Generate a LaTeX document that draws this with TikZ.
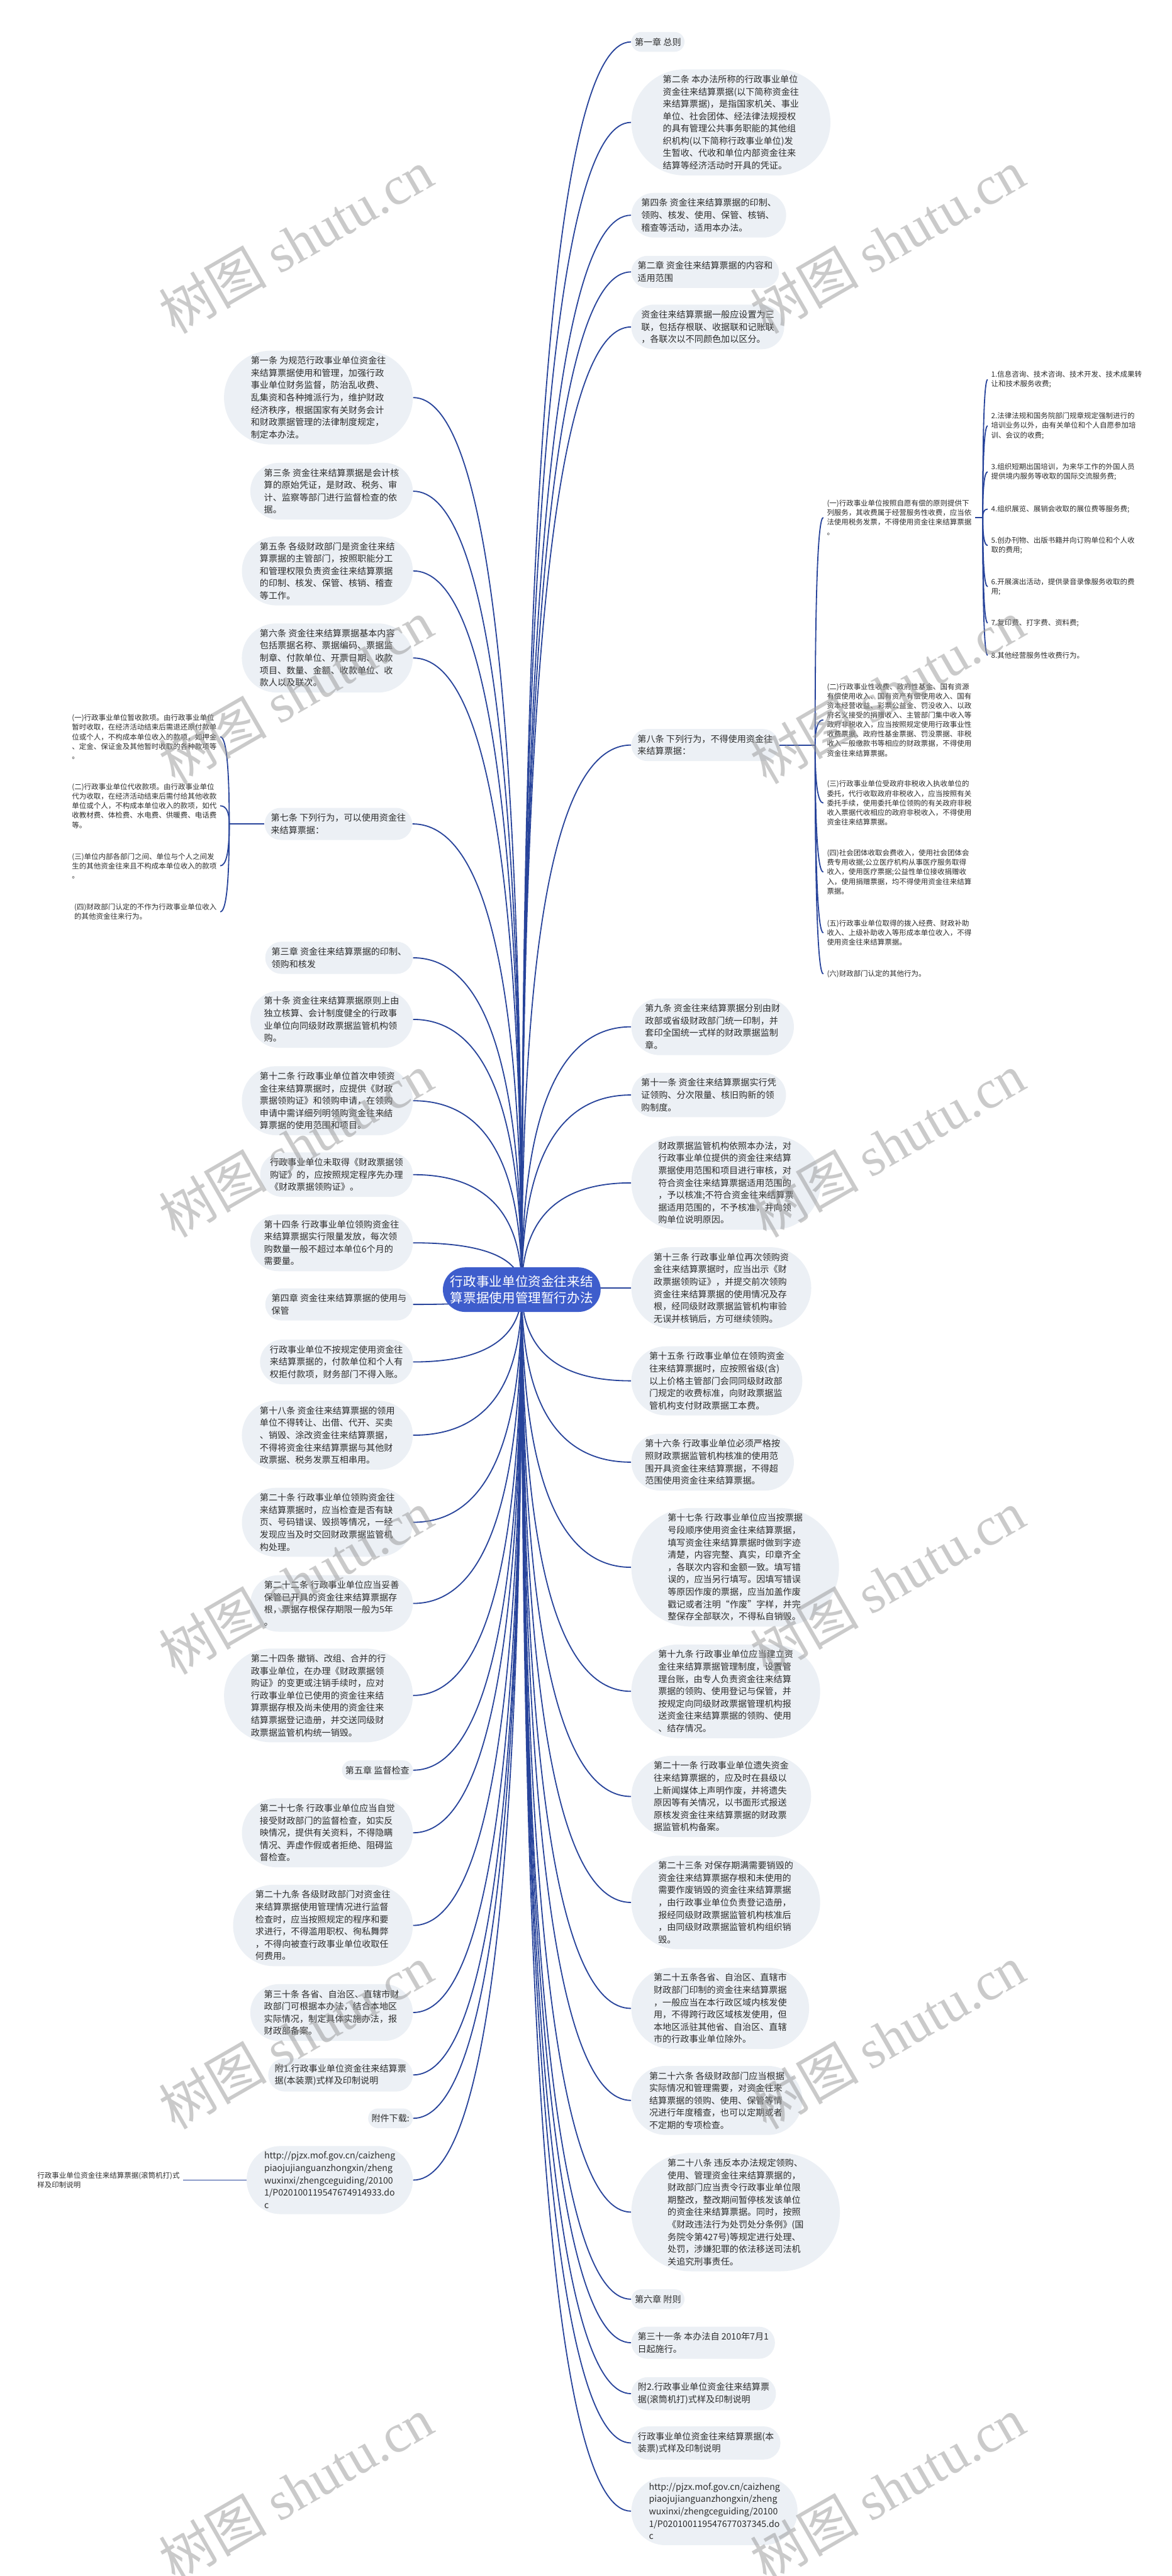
\documentclass[tikz,border=0pt]{standalone}
\usepackage{fontspec}
\setmainfont{Noto Sans CJK SC}
\newfontfamily\wmlatin{Liberation Serif}
\usetikzlibrary{shapes.misc,calc,backgrounds}
\definecolor{bubfill}{RGB}{236,240,245}
\definecolor{lineblue}{RGB}{40,68,155}
\definecolor{rootblue}{RGB}{62,93,204}
\definecolor{txt}{RGB}{45,45,45}
\definecolor{wmgray}{RGB}{150,150,150}
\newcommand\mainfs{\fontsize{5.4}{7.5}\selectfont}
\newcommand\smallfs{\fontsize{4.4}{5.8}\selectfont}
\newcommand\rootfs{\fontsize{7.9}{9.75}\selectfont}
\newcommand\wmfs{\fontsize{33}{33}\selectfont}
\newcommand\qc[2]{\draw[conn] (#1) .. controls ($(#1)!0.6667!(#1|-#2)$) and ($(#2)!0.6667!(#1|-#2)$) .. (#2);}
\tikzset{
  bub/.style={rounded rectangle, fill=bubfill, inner xsep=1.5pt, inner ysep=3.5pt, align=left, text=txt, font=\mainfs},
  smalltxt/.style={inner xsep=2pt, inner ysep=1pt, align=left, text=txt, font=\smallfs},
  rootnode/.style={rounded rectangle, fill=rootblue, text=white, align=left, font=\rootfs, inner xsep=1.5pt, inner ysep=5pt},
  conn/.style={draw=lineblue, line width=0.7pt},
  wm/.style={text=wmgray, text opacity=0.5, rotate=30, inner sep=0pt, font=\wmfs}
}
\begin{document}
\begin{tikzpicture}[x=1pt,y=-1pt]
\useasboundingbox (0,0) rectangle (713,1568);
\coordinate (C) at (317.5,785);
\node[rootnode] (root) at (317.5,785) {行政事业单位资金往来结\\算票据使用管理暂行办法};

% ---------- right side ----------
\node[bub,anchor=west] (r1) at (384,25.5) {第一章 总则};
\node[bub,anchor=west] (r2) at (384,74.5) {第二条 本办法所称的行政事业单位\\资金往来结算票据(以下简称资金往\\来结算票据)，是指国家机关、事业\\单位、社会团体、经法律法规授权\\的具有管理公共事务职能的其他组\\织机构(以下简称行政事业单位)发\\生暂收、代收和单位内部资金往来\\结算等经济活动时开具的凭证。};
\node[bub,anchor=west] (r3) at (384,131) {第四条 资金往来结算票据的印制、\\领购、核发、使用、保管、核销、\\稽查等活动，适用本办法。};
\node[bub,anchor=west] (r4) at (384,165.5) {第二章 资金往来结算票据的内容和\\适用范围};
\node[bub,anchor=west] (r5) at (384,199) {资金往来结算票据一般应设置为三\\联，包括存根联、收据联和记账联\\，各联次以不同颜色加以区分。};
\node[bub,anchor=west] (r6) at (384,453.5) {第八条 下列行为，不得使用资金往\\来结算票据：};
\node[bub,anchor=west] (r7) at (384,625) {第九条 资金往来结算票据分别由财\\政部或省级财政部门统一印制，并\\套印全国统一式样的财政票据监制\\章。};
\node[bub,anchor=west] (r8) at (384,666.5) {第十一条 资金往来结算票据实行凭\\证领购、分次限量、核旧购新的领\\购制度。};
\node[bub,anchor=west] (r9) at (384,720) {财政票据监管机构依照本办法，对\\行政事业单位提供的资金往来结算\\票据使用范围和项目进行审核，对\\符合资金往来结算票据适用范围的\\，予以核准;不符合资金往来结算票\\据适用范围的，不予核准，并向领\\购单位说明原因。};
\node[bub,anchor=west] (r10) at (384,784) {第十三条 行政事业单位再次领购资\\金往来结算票据时，应当出示《财\\政票据领购证》，并提交前次领购\\资金往来结算票据的使用情况及存\\根，经同级财政票据监管机构审验\\无误并核销后，方可继续领购。};
\node[bub,anchor=west] (r11) at (384,840.5) {第十五条 行政事业单位在领购资金\\往来结算票据时，应按照省级(含)\\以上价格主管部门会同同级财政部\\门规定的收费标准，向财政票据监\\管机构支付财政票据工本费。};
\node[bub,anchor=west] (r12) at (384,890) {第十六条 行政事业单位必须严格按\\照财政票据监管机构核准的使用范\\围开具资金往来结算票据，不得超\\范围使用资金往来结算票据。};
\node[bub,anchor=west] (r13) at (384,954) {第十七条 行政事业单位应当按票据\\号段顺序使用资金往来结算票据，\\填写资金往来结算票据时做到字迹\\清楚，内容完整、真实，印章齐全\\，各联次内容和金额一致。填写错\\误的，应当另行填写。因填写错误\\等原因作废的票据，应当加盖作废\\戳记或者注明“作废”字样，并完\\整保存全部联次，不得私自销毁。};
\node[bub,anchor=west] (r14) at (384,1029.5) {第十九条 行政事业单位应当建立资\\金往来结算票据管理制度，设置管\\理台账，由专人负责资金往来结算\\票据的领购、使用登记与保管，并\\按规定向同级财政票据管理机构报\\送资金往来结算票据的领购、使用\\、结存情况。};
\node[bub,anchor=west] (r15) at (384,1093.5) {第二十一条 行政事业单位遗失资金\\往来结算票据的，应及时在县级以\\上新闻媒体上声明作废，并将遗失\\原因等有关情况，以书面形式报送\\原核发资金往来结算票据的财政票\\据监管机构备案。};
\node[bub,anchor=west] (r16) at (384,1158) {第二十三条 对保存期满需要销毁的\\资金往来结算票据存根和未使用的\\需要作废销毁的资金往来结算票据\\，由行政事业单位负责登记造册，\\报经同级财政票据监管机构核准后\\，由同级财政票据监管机构组织销\\毁。};
\node[bub,anchor=west] (r17) at (384,1222.5) {第二十五条各省、自治区、直辖市\\财政部门印制的资金往来结算票据\\，一般应当在本行政区域内核发使\\用，不得跨行政区域核发使用，但\\本地区派驻其他省、自治区、直辖\\市的行政事业单位除外。};
\node[bub,anchor=west] (r18) at (384,1278.5) {第二十六条 各级财政部门应当根据\\实际情况和管理需要，对资金往来\\结算票据的领购、使用、保管等情\\况进行年度稽查，也可以定期或者\\不定期的专项检查。};
\node[bub,anchor=west] (r19) at (384,1346.5) {第二十八条 违反本办法规定领购、\\使用、管理资金往来结算票据的，\\财政部门应当责令行政事业单位限\\期整改，整改期间暂停核发该单位\\的资金往来结算票据。同时，按照\\《财政违法行为处罚处分条例》(国\\务院令第427号)等规定进行处理、\\处罚，涉嫌犯罪的依法移送司法机\\关追究刑事责任。};
\node[bub,anchor=west] (r20) at (384,1399.5) {第六章 附则};
\node[bub,anchor=west] (r21) at (384,1426) {第三十一条 本办法自 2010年7月1\\日起施行。};
\node[bub,anchor=west] (r22) at (384,1457) {附2.行政事业单位资金往来结算票\\据(滚筒机打)式样及印制说明};
\node[bub,anchor=west] (r23) at (384,1487) {行政事业单位资金往来结算票据(本\\装票)式样及印制说明};
\node[bub,anchor=west] (r24) at (384,1528.5) {http://pjzx.mof.gov.cn/caizheng\\piaojujianguanzhongxin/zheng\\wuxinxi/zhengceguiding/20100\\1/P020100119547677037345.do\\c};

% children of article 8
\node[smalltxt,anchor=west] (c1) at (501,315) {(一)行政事业单位按照自愿有偿的原则提供下\\列服务，其收费属于经营服务性收费，应当依\\法使用税务发票，不得使用资金往来结算票据\\。};
\node[smalltxt,anchor=west] (c2) at (501,438.2) {(二)行政事业性收费、政府性基金、国有资源\\有偿使用收入、国有资产有偿使用收入、国有\\资本经营收益、彩票公益金、罚没收入、以政\\府名义接受的捐赠收入、主管部门集中收入等\\政府非税收入，应当按照规定使用行政事业性\\收费票据、政府性基金票据、罚没票据、非税\\收入一般缴款书等相应的财政票据，不得使用\\资金往来结算票据。};
\node[smalltxt,anchor=west] (c3) at (501,488.8) {(三)行政事业单位受政府非税收入执收单位的\\委托，代行收取政府非税收入，应当按照有关\\委托手续，使用委托单位领购的有关政府非税\\收入票据代收相应的政府非税收入，不得使用\\资金往来结算票据。};
\node[smalltxt,anchor=west] (c4) at (501,530.8) {(四)社会团体收取会费收入，使用社会团体会\\费专用收据;公立医疗机构从事医疗服务取得\\收入，使用医疗票据;公益性单位接收捐赠收\\入，使用捐赠票据，均不得使用资金往来结算\\票据。};
\node[smalltxt,anchor=west] (c5) at (501,567.8) {(五)行政事业单位取得的拨入经费、财政补助\\收入、上级补助收入等形成本单位收入，不得\\使用资金往来结算票据。};
\node[smalltxt,anchor=west] (c6) at (501,592.8) {(六)财政部门认定的其他行为。};

% items of (一)
\node[smalltxt,anchor=west] (i1) at (601,231) {1.信息咨询、技术咨询、技术开发、技术成果转\\让和技术服务收费;};
\node[smalltxt,anchor=west] (i2) at (601,259.2) {2.法律法规和国务院部门规章规定强制进行的\\培训业务以外，由有关单位和个人自愿参加培\\训、会议的收费;};
\node[smalltxt,anchor=west] (i3) at (601,287.2) {3.组织短期出国培训，为来华工作的外国人员\\提供境内服务等收取的国际交流服务费;};
\node[smalltxt,anchor=west] (i4) at (601,309.9) {4.组织展览、展销会收取的展位费等服务费;};
\node[smalltxt,anchor=west] (i5) at (601,332) {5.创办刊物、出版书籍并向订购单位和个人收\\取的费用;};
\node[smalltxt,anchor=west] (i6) at (601,357.1) {6.开展演出活动，提供录音录像服务收取的费\\用;};
\node[smalltxt,anchor=west] (i7) at (601,379.2) {7.复印费、打字费、资料费;};
\node[smalltxt,anchor=west] (i8) at (601,398.9) {8.其他经营服务性收费行为。};

% ---------- left side ----------
\node[bub,anchor=east] (l1) at (251.4,242) {第一条 为规范行政事业单位资金往\\来结算票据使用和管理，加强行政\\事业单位财务监督，防治乱收费、\\乱集资和各种摊派行为，维护财政\\经济秩序，根据国家有关财务会计\\和财政票据管理的法律制度规定，\\制定本办法。};
\node[bub,anchor=east] (l2) at (251.4,299) {第三条 资金往来结算票据是会计核\\算的原始凭证，是财政、税务、审\\计、监察等部门进行监督检查的依\\据。};
\node[bub,anchor=east] (l3) at (251.4,347.5) {第五条 各级财政部门是资金往来结\\算票据的主管部门，按照职能分工\\和管理权限负责资金往来结算票据\\的印制、核发、保管、核销、稽查\\等工作。};
\node[bub,anchor=east] (l4) at (251.4,400.5) {第六条 资金往来结算票据基本内容\\包括票据名称、票据编码、票据监\\制章、付款单位、开票日期、收款\\项目、数量、金额、收款单位、收\\款人以及联次。};
\node[bub,anchor=east] (l5) at (251,501.5) {第七条 下列行为，可以使用资金往\\来结算票据：};
\node[bub,anchor=east] (l6) at (251.4,583) {第三章 资金往来结算票据的印制、\\领购和核发};
\node[bub,anchor=east] (l7) at (251.4,620.5) {第十条 资金往来结算票据原则上由\\独立核算、会计制度健全的行政事\\业单位向同级财政票据监管机构领\\购。};
\node[bub,anchor=east] (l8) at (251.4,670) {第十二条 行政事业单位首次申领资\\金往来结算票据时，应提供《财政\\票据领购证》和领购申请，在领购\\申请中需详细列明领购资金往来结\\算票据的使用范围和项目。};
\node[bub,anchor=east] (l9) at (251.4,715) {行政事业单位未取得《财政票据领\\购证》的，应按照规定程序先办理\\《财政票据领购证》。};
\node[bub,anchor=east] (l10) at (251.4,756.5) {第十四条 行政事业单位领购资金往\\来结算票据实行限量发放，每次领\\购数量一般不超过本单位6个月的\\需要量。};
\node[bub,anchor=east] (l11) at (251.4,794) {第四章 资金往来结算票据的使用与\\保管};
\node[bub,anchor=east] (l12) at (251.4,829) {行政事业单位不按规定使用资金往\\来结算票据的，付款单位和个人有\\权拒付款项，财务部门不得入账。};
\node[bub,anchor=east] (l13) at (251.4,873.6) {第十八条 资金往来结算票据的领用\\单位不得转让、出借、代开、买卖\\、销毁、涂改资金往来结算票据，\\不得将资金往来结算票据与其他财\\政票据、税务发票互相串用。};
\node[bub,anchor=east] (l14) at (251.4,926.6) {第二十条 行政事业单位领购资金往\\来结算票据时，应当检查是否有缺\\页、号码错误、毁损等情况，一经\\发现应当及时交回财政票据监管机\\构处理。};
\node[bub,anchor=east] (l15) at (251.4,976) {第二十二条 行政事业单位应当妥善\\保管已开具的资金往来结算票据存\\根，票据存根保存期限一般为5年\\。};
\node[bub,anchor=east] (l16) at (251.4,1032) {第二十四条 撤销、改组、合并的行\\政事业单位，在办理《财政票据领\\购证》的变更或注销手续时，应对\\行政事业单位已使用的资金往来结\\算票据存根及尚未使用的资金往来\\结算票据登记造册，并交送同级财\\政票据监管机构统一销毁。};
\node[bub,anchor=east] (l17) at (251.4,1077.5) {第五章 监督检查};
\node[bub,anchor=east] (l18) at (251.4,1115.6) {第二十七条 行政事业单位应当自觉\\接受财政部门的监督检查，如实反\\映情况，提供有关资料，不得隐瞒\\情况、弄虚作假或者拒绝、阻碍监\\督检查。};
\node[bub,anchor=east] (l19) at (251.4,1172) {第二十九条 各级财政部门对资金往\\来结算票据使用管理情况进行监督\\检查时，应当按照规定的程序和要\\求进行，不得滥用职权、徇私舞弊\\，不得向被查行政事业单位收取任\\何费用。};
\node[bub,anchor=east] (l20) at (251.4,1225) {第三十条 各省、自治区、直辖市财\\政部门可根据本办法，结合本地区\\实际情况，制定具体实施办法，报\\财政部备案。};
\node[bub,anchor=east] (l21) at (251.4,1263) {附1.行政事业单位资金往来结算票\\据(本装票)式样及印制说明};
\node[bub,anchor=east] (l22) at (251.4,1289.4) {附件下载:};
\node[bub,anchor=east] (l23) at (251.4,1327) {http://pjzx.mof.gov.cn/caizheng\\piaojujianguanzhongxin/zheng\\wuxinxi/zhengceguiding/20100\\1/P020100119547674914933.do\\c};

% children of article 7
\node[smalltxt,anchor=east] (k1) at (134,448.5) {(一)行政事业单位暂收款项。由行政事业单位\\暂时收取，在经济活动结束后需退还原付款单\\位或个人，不构成本单位收入的款项，如押金\\、定金、保证金及其他暂时收取的各种款项等\\。};
\node[smalltxt,anchor=east] (k2) at (134,490.5) {(二)行政事业单位代收款项。由行政事业单位\\代为收取，在经济活动结束后需付给其他收款\\单位或个人，不构成本单位收入的款项，如代\\收教材费、体检费、水电费、供暖费、电话费\\等。};
\node[smalltxt,anchor=east] (k3) at (134,527) {(三)单位内部各部门之间、单位与个人之间发\\生的其他资金往来且不构成本单位收入的款项\\。};
\node[smalltxt,anchor=east] (k4) at (134,555) {(四)财政部门认定的不作为行政事业单位收入\\的其他资金往来行为。};

% leaf of l23
\node[smalltxt,anchor=east] (lf) at (111.5,1327) {行政事业单位资金往来结算票据(滚筒机打)式\\样及印制说明};

% ---------- connectors ----------
\begin{pgfonlayer}{background}
\fill[white] (0,0) rectangle (713,1568);
\foreach \n in {r1,r2,r3,r4,r5,r6,r7,r8,r9,r10,r11,r12,r13,r14,r15,r16,r17,r18,r19,r20,r21,r22,r23,r24} {\qc{C}{\n.west}}
\foreach \n in {l1,l2,l3,l4,l5,l6,l7,l8,l9,l10,l11,l12,l13,l14,l15,l16,l17,l18,l19,l20,l21,l22,l23} {\qc{C}{\n.east}}
\coordinate (B8) at (496,453.5);
\draw[conn] (r6.east) -- (B8);
\foreach \n in {c1,c2,c3,c4,c5,c6} {\qc{B8}{\n.west}}
\coordinate (B1) at (598,315);
\draw[conn] (c1.east) -- (B1);
\foreach \n in {i1,i2,i3,i4,i5,i6,i7,i8} {\qc{B1}{\n.west}}
\coordinate (B7) at (139.5,501.5);
\draw[conn] (l5.west) -- (B7);
\foreach \n in {k1,k2,k3,k4} {\qc{B7}{\n.east}}
\draw[conn] (l23.west) -- (lf.east);
\end{pgfonlayer}

% ---------- watermarks ----------
\node[wm] (wa) at (180,147) {树图 {\wmlatin shutu.cn}};
\node[wm] (wb) at (180,421) {树图 {\wmlatin shutu.cn}};
\node[wm] (wc) at (180,697) {树图 {\wmlatin shutu.cn}};
\node[wm] (wd) at (180,963) {树图 {\wmlatin shutu.cn}};
\node[wm] (we) at (180,1240) {树图 {\wmlatin shutu.cn}};
\node[wm] (wf) at (180,1515) {树图 {\wmlatin shutu.cn}};
\node[wm] (wg) at (540,147) {树图 {\wmlatin shutu.cn}};
\node[wm] (wh) at (540,421) {树图 {\wmlatin shutu.cn}};
\node[wm] (wi) at (540,697) {树图 {\wmlatin shutu.cn}};
\node[wm] (wj) at (540,963) {树图 {\wmlatin shutu.cn}};
\node[wm] (wk) at (540,1240) {树图 {\wmlatin shutu.cn}};
\node[wm] (wl) at (540,1515) {树图 {\wmlatin shutu.cn}};
\end{tikzpicture}
\end{document}
